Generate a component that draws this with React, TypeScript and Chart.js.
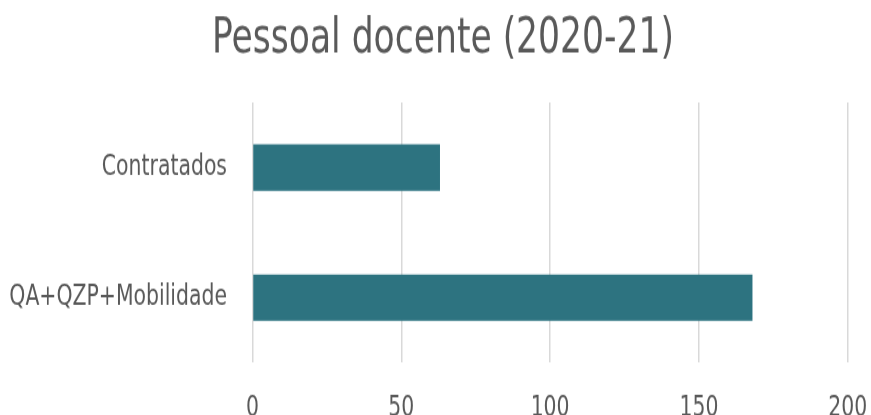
import React, { useEffect, useRef } from "react";
import { Chart, registerables } from "chart.js";

Chart.register(...registerables);

const categories = ["Contratados", "QA+QZP+Mobilidade"];
const values = [63, 168];
const xTicks = [0, 50, 100, 150, 200];

const FONT = "'DejaVu Sans Condensed', 'DejaVu Sans', sans-serif";
const TEXT = "#595959";
const BAR = "#2D7380";
const SY = 1.25; // vertical stretch of the reference image
const W = 871;
const H = 345;
const PAD_R = 23.3;
const TITLE_LEFT = 38.3;

const titleShift = {
  id: "titleShift",
  afterLayout(chart: any) {
    const t = chart.titleBlock;
    if (t) t.left = TITLE_LEFT;
  },
};

export default function App() {
  const ref = useRef<HTMLCanvasElement | null>(null);
  useEffect(() => {
    if (!ref.current) return;
    const chart = new Chart(ref.current, {
      type: "bar",
      data: {
        labels: categories,
        datasets: [
          {
            data: values,
            backgroundColor: BAR,
            borderWidth: 0,
            barPercentage: 0.356,
            categoryPercentage: 1,
          },
        ],
      },
      plugins: [titleShift],
      options: {
        indexAxis: "y",
        animation: false,
        responsive: false,
        devicePixelRatio: 1,
        layout: { padding: { top: 9, right: PAD_R, bottom: 0, left: 0 } },
        plugins: {
          legend: { display: false },
          tooltip: { enabled: false },
          title: {
            display: true,
            text: "Pessoal docente (2020-21)",
            color: TEXT,
            font: { family: FONT, size: 38.4, weight: "normal", lineHeight: 1.2 },
            padding: { top: 0, bottom: 27 },
          },
        },
        scales: {
          x: {
            min: xTicks[0],
            max: xTicks[xTicks.length - 1],
            afterBuildTicks: (axis: any) => {
              axis.ticks = xTicks.map((v) => ({ value: v }));
            },
            afterFit: (axis: any) => {
              axis.height = H - 290.4;
              axis.paddingLeft = 0;
              axis.paddingRight = 0;
            },
            grid: { color: "#d9d9d9", lineWidth: 1.5, drawTicks: false },
            border: { display: false },
            ticks: {
              color: TEXT,
              font: { family: FONT, size: 22.7 },
              padding: 23,
            },
          },
          y: {
            afterFit: (axis: any) => {
              axis.width = 252.5;
              axis.paddingTop = 0;
              axis.paddingBottom = 0;
            },
            grid: { display: false, drawTicks: false },
            border: { display: false },
            ticks: {
              color: TEXT,
              font: { family: FONT, size: 22.7 },
              padding: 25.5,
            },
          },
        },
      },
    });
    return () => chart.destroy();
  }, []);
  return (
    <div
      style={{
        position: "absolute",
        left: 0,
        top: 0,
        width: W,
        height: 415,
        overflow: "hidden",
        background: "#fff",
      }}
    >
      <canvas
        ref={ref}
        width={W}
        height={H}
        style={{ display: "block", width: W + "px", height: H * SY + "px" }}
      />
    </div>
  );
}
